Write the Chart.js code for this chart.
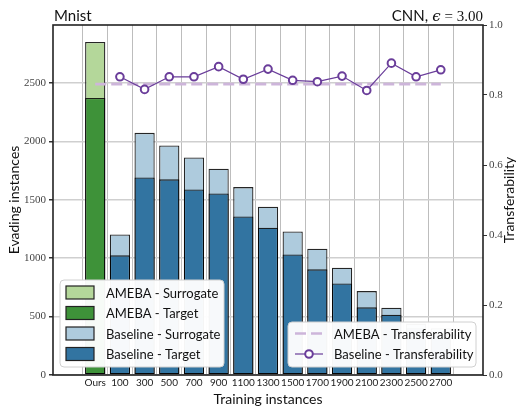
<!DOCTYPE html>
<html>
<head>
<meta charset="utf-8">
<script src="https://cdn.jsdelivr.net/npm/chart.js@4"></script>
<style>
  html, body { margin: 0; padding: 0; background: #fff; }
  #wrap { width: 519px; height: 412px; }
</style>
</head>
<body>
<div id="wrap"><canvas id="chart" width="519" height="412"></canvas></div>
<script>
// data
const categories = ['Ours', '100', '300', '500', '700', '900', '1100', '1300', '1500', '1700', '1900', '2100', '2300', '2500', '2700'];
const amebaSurrogate = [2850];
const amebaTarget = [2370];
const baselineSurrogate = [1203, 2072, 1964, 1862, 1765, 1608, 1440, 1229, 1080, 918, 718, 576, 440, 400];
const baselineTarget = [1024, 1691, 1674, 1588, 1554, 1357, 1260, 1032, 904, 784, 579, 516, 400, 350];
const baselineTransfer = [0.852, 0.816, 0.852, 0.852, 0.881, 0.845, 0.874, 0.842, 0.838, 0.854, 0.813, 0.891, 0.852, 0.872];
const amebaTransfer = [0.831];
const leftTicks = [0, 500, 1000, 1500, 2000, 2500];
const rightTicks = [0, 0.2, 0.4, 0.6, 0.8, 1.0];

const SANS = 'Lato, "DejaVu Sans", sans-serif';
const SERIF = '"Liberation Serif", "DejaVu Serif", serif';

// baseline points sit after "Ours"
const atBaseline = arr => arr.map((v, i) => ({ x: i + 1, y: v }));
const atOurs = arr => arr.map((v, i) => ({ x: i, y: v }));

const ctx = document.getElementById('chart').getContext('2d');

// frame, titles, right-axis label and the two legends
const extras = {
  id: 'extras',
  afterDraw(chart) {
    const c = chart.ctx;
    const a = chart.chartArea;
    c.save();
    c.strokeStyle = '#222';
    c.lineWidth = 1.6;
    c.strokeRect(a.left, a.top, a.right - a.left, a.bottom - a.top);

    // titles
    c.fillStyle = '#111';
    c.textBaseline = 'alphabetic';
    c.font = '15px ' + SANS;
    c.textAlign = 'left';
    c.fillText('Mnist', a.left + 1, 21);
    // right title: "CNN, ϵ = 3.00" built from right to left
    let x = a.right;
    c.textAlign = 'right';
    c.font = '15px ' + SERIF;
    c.fillText('= 3.00', x, 21);
    x -= c.measureText('= 3.00').width + 4;
    c.font = 'italic 15px "DejaVu Serif", serif';
    c.fillText('\u03f5', x, 21);
    x -= c.measureText('\u03f5').width + 4;
    c.font = '15px ' + SANS;
    c.fillText('CNN,', x, 21);

    // right axis title, bottom to top
    c.save();
    c.translate(509, (a.top + a.bottom) / 2);
    c.rotate(-Math.PI / 2);
    c.textAlign = 'center';
    c.textBaseline = 'middle';
    c.font = '14px ' + SANS;
    c.fillText('Transferability', 0, 0);
    c.restore();

    const ds = chart.data.datasets;
    const box = (x0, y0, w, h) => {
      c.beginPath();
      c.roundRect(x0, y0, w, h, 4);
      c.fillStyle = 'rgba(255,255,255,0.96)';
      c.fill();
      c.strokeStyle = '#d0d0d0';
      c.lineWidth = 1;
      c.stroke();
    };

    // bar legend
    box(60, 280, 164, 87);
    const barOrder = [0, 1, 2, 3].map(k => ds.find(d => d.legendIdx === k));
    barOrder.forEach((d, i) => {
      const yc = 292.5 + i * 20.5;
      c.fillStyle = d.backgroundColor;
      c.fillRect(66, yc - 6.5, 28, 13);
      c.strokeStyle = '#222';
      c.lineWidth = 1.2;
      c.strokeRect(66, yc - 6.5, 28, 13);
      c.fillStyle = '#111';
      c.font = '13px ' + SANS;
      c.textAlign = 'left';
      c.textBaseline = 'middle';
      c.fillText(d.label, 106, yc + 1);
    });

    // line legend
    box(288, 322, 188, 45);
    const lineOrder = [4, 5].map(k => ds.find(d => d.legendIdx === k));
    lineOrder.forEach((d, i) => {
      const yc = 333.5 + i * 20.5;
      c.strokeStyle = d.borderColor;
      c.lineWidth = d.borderWidth;
      c.setLineDash(d.borderDash || []);
      c.beginPath();
      c.moveTo(295, yc);
      c.lineTo(323, yc);
      c.stroke();
      c.setLineDash([]);
      if (d.pointRadius > 0) {
        c.beginPath();
        c.arc(309, yc, d.pointRadius, 0, Math.PI * 2);
        c.fillStyle = '#fff';
        c.fill();
        c.lineWidth = d.pointBorderWidth;
        c.stroke();
      }
      c.fillStyle = '#111';
      c.font = '13px ' + SANS;
      c.textAlign = 'left';
      c.textBaseline = 'middle';
      c.fillText(d.label, 334, yc + 1);
    });
    c.restore();
  }
};

const barCommon = {
  type: 'bar',
  grouped: false,
  borderColor: 'rgba(0,0,0,0.85)',
  borderWidth: 1.3,
  borderSkipped: false,
  barPercentage: 0.82,
  categoryPercentage: 1.0,
  yAxisID: 'y'
};

const chart = new Chart(ctx, {
  data: {
    datasets: [
      {
        type: 'line', label: 'Baseline - Transferability', legendIdx: 5,
        data: atBaseline(baselineTransfer), yAxisID: 'y1', order: 0,
        borderColor: '#6a3d9a', borderWidth: 1.2,
        pointRadius: 3.8, pointBorderWidth: 2, pointBackgroundColor: '#fff',
        pointBorderColor: '#6a3d9a'
      },
      {
        type: 'line', label: 'AMEBA - Transferability', legendIdx: 4,
        data: [{ x: 0, y: amebaTransfer[0] }, { x: categories.length - 1, y: amebaTransfer[0] }],
        yAxisID: 'y1', order: 1,
        borderColor: '#cdb5da', borderWidth: 2.6, borderDash: [11, 5], pointRadius: 0
      },
      { ...barCommon, label: 'AMEBA - Target', legendIdx: 1, order: 2,
        data: atOurs(amebaTarget), backgroundColor: '#3e9239' },
      { ...barCommon, label: 'Baseline - Target', legendIdx: 3, order: 2,
        data: atBaseline(baselineTarget), backgroundColor: '#3274a1' },
      { ...barCommon, label: 'AMEBA - Surrogate', legendIdx: 0, order: 3,
        data: atOurs(amebaSurrogate), backgroundColor: '#b4d79a' },
      { ...barCommon, label: 'Baseline - Surrogate', legendIdx: 2, order: 3,
        data: atBaseline(baselineSurrogate), backgroundColor: '#aecbdd' }
    ]
  },
  options: {
    responsive: false,
    animation: false,
    layout: { padding: { top: 25, left: 0, right: 0, bottom: 0 } },
    plugins: { legend: { display: false }, title: { display: false }, tooltip: { enabled: false } },
    scales: {
      x: {
        type: 'linear',
        min: -1.13,
        max: categories.length - 1 + 1.13,
        afterBuildTicks: s => { s.ticks = categories.map((_, i) => ({ value: i })); },
        afterFit: s => { s.height = 37; },
        ticks: {
          autoSkip: false, maxRotation: 0, padding: 2, color: '#222',
          font: { family: SANS, size: 10 },
          callback: v => categories[v] ?? ''
        },
        grid: { color: '#bdbdbd', lineWidth: 1, tickLength: 0, drawTicks: false },
        border: { display: false },
        title: { display: true, text: 'Training instances', color: '#111',
                 font: { family: SANS, size: 14 }, padding: { top: 0, bottom: 4 } }
      },
      y: {
        position: 'left',
        min: 0, max: 2995,
        afterBuildTicks: s => { s.ticks = leftTicks.map(v => ({ value: v })); },
        afterFit: s => { s.width = 53; },
        ticks: { padding: 3, color: '#444', font: { family: SERIF, size: 11 },
                 callback: v => String(v) },
        grid: { color: '#cfcfcf', lineWidth: 1.5, tickColor: '#333', tickLength: 4 },
        border: { display: false },
        title: { display: true, text: 'Evading instances', color: '#111',
                 font: { family: SANS, size: 14 }, padding: { top: 6, bottom: 0 } }
      },
      y1: {
        position: 'right',
        min: 0, max: 1,
        afterBuildTicks: s => { s.ticks = rightTicks.map(v => ({ value: v })); },
        afterFit: s => { s.width = 36; },
        ticks: { padding: 2, color: '#444', font: { family: SERIF, size: 11 },
                 callback: v => v.toFixed(1) },
        grid: { drawOnChartArea: false, tickColor: '#333', tickLength: 4 },
        border: { display: false }
      }
    }
  },
  plugins: [extras]
});
</script>
</body>
</html>
